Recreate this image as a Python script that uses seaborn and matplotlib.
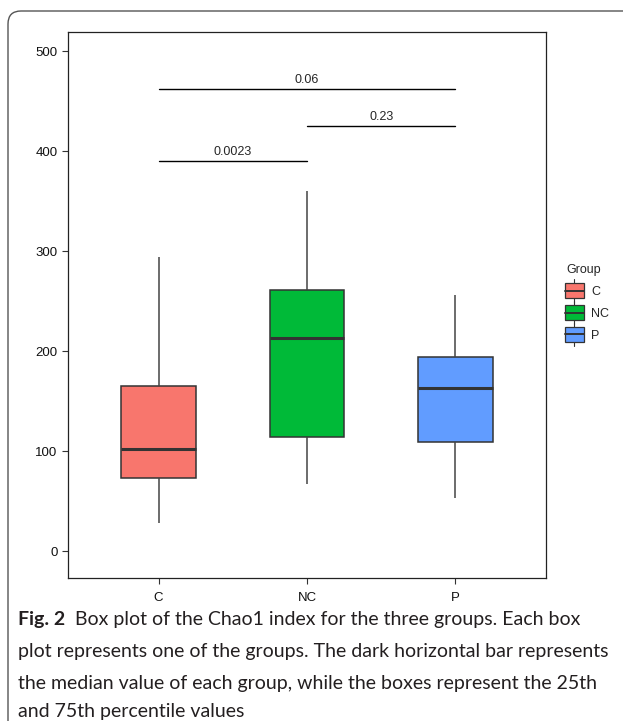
import numpy as np
import pandas as pd
import matplotlib
matplotlib.use("Agg")
import matplotlib.pyplot as plt
import seaborn as sns
from matplotlib.patches import Rectangle, FancyBboxPatch, Patch
from matplotlib.lines import Line2D
from matplotlib.legend_handler import HandlerBase

# five-number summaries: min, Q1, median, Q3, max
groups = ["C", "NC", "P"]
chao1_C = [28, 73, 102, 165, 294]
chao1_NC = [67, 114, 213, 261, 360]
chao1_P = [53, 109, 163, 194, 256]
colors = ["#F8766D", "#00BA38", "#619CFF"]

# pairwise comparisons (group a, group b, bar height, p value)
comp_a = ["C", "NC", "C"]
comp_b = ["NC", "P", "P"]
comp_y = [390, 425, 462]
comp_p = ["0.0023", "0.23", "0.06"]

caption_bold = "Fig. 2"
caption_lines = [
    "  Box plot of the Chao1 index for the three groups. Each box",
    "plot represents one of the groups. The dark horizontal bar represents",
    "the median value of each group, while the boxes represent the 25th",
    "and 75th percentile values",
]

df = pd.DataFrame({
    "Group": np.repeat(groups, 5),
    "Chao1": chao1_C + chao1_NC + chao1_P,
})

sns.set_style("white")
plt.rcParams["font.family"] = ["Liberation Sans", "DejaVu Sans"]

fig = plt.figure(figsize=(6.23, 7.21), dpi=100)
ax = fig.add_axes([68 / 623, 1 - 578 / 721, (546 - 68) / 623, (578 - 32) / 721])

edge = "#333333"
sns.boxplot(data=df, x="Group", y="Chao1", hue="Group", palette=colors,
            order=groups, hue_order=groups, width=0.5, whis=(0, 100),
            saturation=1, linecolor=edge, linewidth=1.1, legend=False, ax=ax,
            medianprops={"linewidth": 2.2, "color": edge},
            whiskerprops={"color": "#444444"}, capprops={"linewidth": 0})

ax.set_xlim(-0.61, 2.61)
ax.set_ylim(-27, 519)
ax.set_yticks([0, 100, 200, 300, 400, 500])
ax.set_xlabel("")
ax.set_ylabel("")
for s in ax.spines.values():
    s.set_visible(True)
    s.set_color("#222222")
    s.set_linewidth(0.9)
ax.tick_params(axis="both", which="both", length=4, width=0.8, color="#333333",
               labelsize=9.5, labelcolor="#111111", direction="out",
               bottom=True, left=True)
ax.tick_params(axis="x", pad=6)

# significance bars
for a, b, y, p in zip(comp_a, comp_b, comp_y, comp_p):
    xa, xb = groups.index(a), groups.index(b)
    ax.plot([xa, xb], [y, y], color="black", lw=1.0)
    ax.text((xa + xb) / 2, y + 3, p, ha="center", va="bottom", fontsize=9)


class BoxHandler(HandlerBase):
    def create_artists(self, legend, orig_handle, xdescent, ydescent,
                       width, height, fontsize, trans):
        cx = -xdescent + width / 2
        cy = -ydescent + height / 2
        w = 14
        h = 11
        wl = Line2D([cx, cx], [cy - h / 2 - 3, cy + h / 2 + 3], color="#333333", lw=0.8)
        r = Rectangle((cx - w / 2, cy - h / 2), w, h,
                      facecolor=orig_handle.get_facecolor(), edgecolor="#333333", lw=0.9)
        m = Line2D([cx - w / 2, cx + w / 2], [cy, cy], color="#333333", lw=1.4)
        for art in (wl, r, m):
            art.set_transform(trans)
        return [wl, r, m]


handles = [Patch(facecolor=c, edgecolor=edge) for c in colors]
leg = fig.legend(handles, groups, title="Group", loc="upper left",
                 bbox_to_anchor=(555 / 623, 1 - 253 / 721), frameon=False,
                 handler_map={Patch: BoxHandler()}, handlelength=1.3,
                 handleheight=1.3, handletextpad=0.7, labelspacing=0.62,
                 fontsize=9, title_fontsize=9, alignment="left")

# page frame with rounded corner
frame = FancyBboxPatch((0.08, -1.0), 7.0, 7.10 + 1.0,
                       boxstyle="round,pad=0,rounding_size=0.13",
                       transform=fig.dpi_scale_trans, facecolor="none",
                       edgecolor="#555555", lw=1.0, zorder=0)
fig.patches.append(frame)

# caption
cap_color = "#231f20"
cap_font = ["Lato", "DejaVu Sans"]
cap_size = 14
x0 = 18 / 623
line_y = [619, 651, 683, 712]
t = fig.text(x0, 1 - line_y[0] / 721, caption_bold, fontsize=cap_size, fontweight="bold",
             family=cap_font, color=cap_color, va="center", ha="left")
fig.canvas.draw()
bb = t.get_window_extent(renderer=fig.canvas.get_renderer())
fig.text(bb.x1 / fig.bbox.width, 1 - line_y[0] / 721, caption_lines[0], fontsize=cap_size,
         family=cap_font, color=cap_color, va="center", ha="left")
for line, y in zip(caption_lines[1:], line_y[1:]):
    fig.text(x0, 1 - y / 721, line, fontsize=cap_size, family=cap_font,
             color=cap_color, va="center", ha="left")

fig.savefig("out.png", dpi=100)
